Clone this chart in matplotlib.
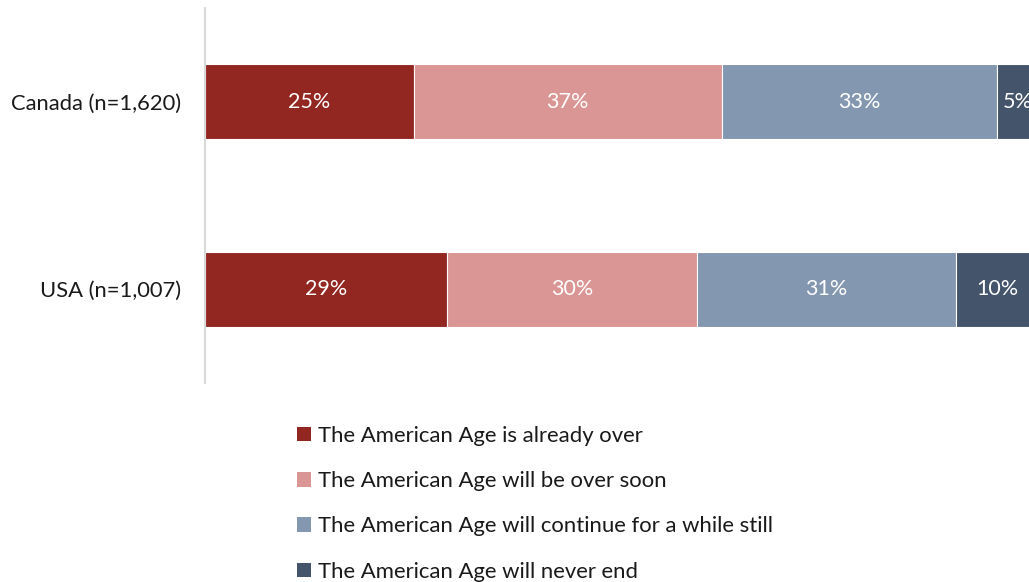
import matplotlib
matplotlib.use("Agg")
import matplotlib.pyplot as plt
from matplotlib.patches import Patch

plt.rcParams['font.family'] = ['Lato', 'DejaVu Sans']

groups = ["Canada (n=1,620)", "USA (n=1,007)"]
series = [
    "The American Age is already over",
    "The American Age will be over soon",
    "The American Age will continue for a while still",
    "The American Age will never end",
]
values = [
    [25, 29],
    [37, 30],
    [33, 31],
    [5, 10],
]
colors = ["#922620", "#DA9694", "#8497B0", "#44546A"]

W, H = 1029, 582
fig = plt.figure(figsize=(W / 100, H / 100), dpi=100)
# the plot area runs a little past the right edge of the figure
ax = fig.add_axes([205 / W, 1 - 383 / H, 834 / W, 375 / H])

ypos = list(range(len(groups)))
left = [0] * len(groups)
for name, vals, col in zip(series, values, colors):
    bars = ax.barh(ypos, vals, left=left, height=0.4, color=col,
                   edgecolor="white", linewidth=0.8, label=name)
    for b, v in zip(bars, vals):
        ax.text(b.get_x() + b.get_width() / 2, b.get_y() + b.get_height() / 2,
                f"{v}%", ha="center", va="center", color="white", fontsize=15.5)
    left = [l + v for l, v in zip(left, vals)]

ax.set_xlim(0, 100)
ax.set_ylim(1.5, -0.5)
ax.set_yticks(ypos)
ax.set_yticklabels(groups, fontsize=15.8, color="#1a1a1a")
ax.tick_params(axis="y", length=0, pad=17)
ax.set_xticks([])
for s in ["top", "right", "bottom"]:
    ax.spines[s].set_visible(False)
ax.spines["left"].set_color("#D9D9D9")
ax.spines["left"].set_linewidth(1.5)

handles = [Patch(facecolor=c, edgecolor="none") for c in colors]
fig.legend(handles, series, loc="upper left", bbox_to_anchor=(297 / W, 1 - 426 / H),
           frameon=False, fontsize=15.9, handlelength=0.63, handleheight=0.63,
           handletextpad=0.32, labelspacing=1.14, borderaxespad=0, borderpad=0,
           labelcolor="#1a1a1a")

fig.savefig("out.png", dpi=100)
